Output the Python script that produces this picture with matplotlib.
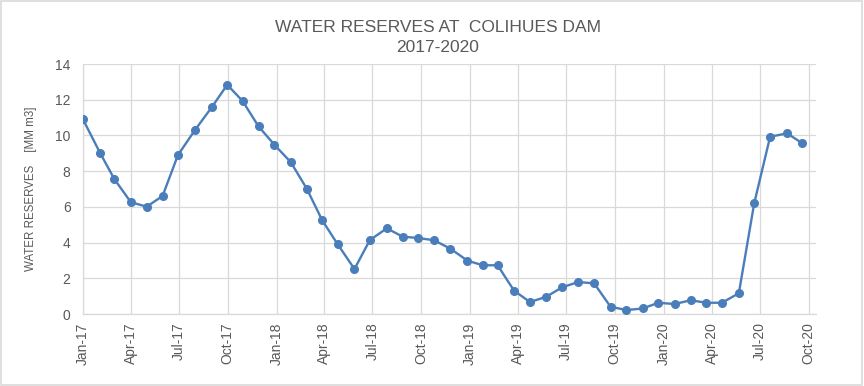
import pandas as pd
import matplotlib
matplotlib.use('Agg')
import matplotlib.pyplot as plt
import matplotlib.dates as mdates
from matplotlib.patches import Rectangle

plt.rcParams['font.family'] = ['Liberation Sans', 'DejaVu Sans']

dates = ['2017-01-01', '2017-02-02', '2017-03-01', '2017-04-01', '2017-05-01', '2017-05-31',
         '2017-06-29', '2017-07-31', '2017-09-01', '2017-09-30', '2017-10-29', '2017-11-28',
         '2017-12-28', '2018-01-28', '2018-02-27', '2018-03-28', '2018-04-26', '2018-05-28',
         '2018-06-26', '2018-07-28', '2018-08-27', '2018-09-25', '2018-10-25', '2018-11-25',
         '2018-12-27', '2019-01-25', '2019-02-22', '2019-03-25', '2019-04-24', '2019-05-25',
         '2019-06-24', '2019-07-24', '2019-08-23', '2019-09-23', '2019-10-23', '2019-11-23',
         '2019-12-22', '2020-01-22', '2020-02-21', '2020-03-22', '2020-04-20', '2020-05-22',
         '2020-06-20', '2020-07-20', '2020-08-21', '2020-09-19']
reserves = [10.90, 9.03, 7.56, 6.27, 6.01, 6.61, 8.90, 10.30, 11.59, 12.84, 11.93, 10.51,
            9.48, 8.50, 7.02, 5.26, 3.92, 2.52, 4.14, 4.80, 4.33, 4.26, 4.13, 3.66,
            2.99, 2.73, 2.73, 1.31, 0.67, 0.97, 1.50, 1.79, 1.72, 0.41, 0.22, 0.31,
            0.63, 0.56, 0.77, 0.63, 0.63, 1.16, 6.20, 9.93, 10.12, 9.56]

title = 'WATER RESERVES AT  COLIHUES DAM\n2017-2020'
ylabel = 'WATER RESERVES    [MM m3]'

x = pd.to_datetime(dates)
grey = '#595959'
grid = '#d9d9d9'

fig = plt.figure(figsize=(8.64, 3.86), dpi=100)
ax = fig.add_axes([0.0961, 0.1865, 0.848, 0.6475])

ax.plot(x, reserves, color='#4a7ebb', lw=1.7, marker='o', markersize=5.5, zorder=3)

ax.set_xlim(pd.Timestamp('2017-01-01'), pd.Timestamp('2020-10-14'))
ax.set_ylim(0, 14)
ax.set_yticks(range(0, 15, 2))
ax.xaxis.set_major_locator(mdates.MonthLocator(bymonth=[1, 4, 7, 10]))
ax.xaxis.set_major_formatter(mdates.DateFormatter('%b-%y'))
plt.setp(ax.get_xticklabels(), rotation=90)

ax.grid(True, color=grid, lw=0.9)
ax.set_axisbelow(True)
for s in ['top', 'right']:
    ax.spines[s].set_visible(False)
for s in ['left', 'bottom']:
    ax.spines[s].set_color(grid)
    ax.spines[s].set_linewidth(0.9)
ax.tick_params(axis='both', length=0, colors=grey, labelsize=10)
ax.tick_params(axis='x', pad=6)
ax.tick_params(axis='y', pad=9)

ax.set_ylabel(ylabel, fontsize=8.3, color=grey, labelpad=13)
fig.text(0.507, 0.903, title, ha='center', va='center', fontsize=12.5, color=grey, linespacing=1.4)

fig.patches.append(Rectangle((0.001, 0.003), 0.997, 0.994, transform=fig.transFigure,
                             fill=False, edgecolor=grid, lw=1.2))

fig.savefig('out.png', dpi=100)
